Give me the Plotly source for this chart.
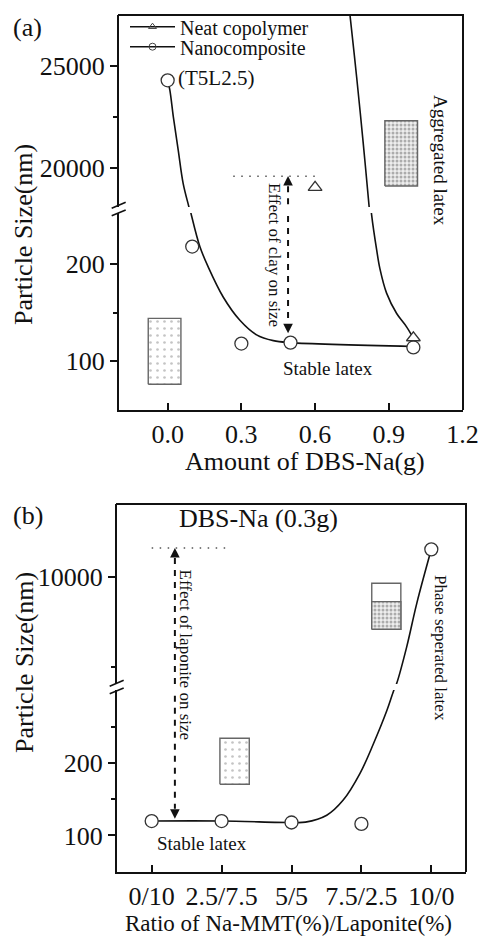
import plotly.graph_objects as go

# ---------------- data ----------------
# Panel (a): particle size vs amount of DBS-Na
dbs_nano = [0.0, 0.1, 0.3, 0.5, 1.0]
size_nano = [24300, 218, 118, 119, 114]
dbs_neat = [0.6, 1.0]
size_neat = [19050, 124]

# smooth guide curves as drawn in the figure (upper / lower part of broken axis)
nano_fit_up_x = [0.0, 0.009, 0.023, 0.043, 0.063, 0.088, 0.096]
nano_fit_up_y = [24300, 23820, 22520, 20880, 19250, 18020, 17600]
nano_fit_lo_x = [0.09, 0.098, 0.131, 0.165, 0.226, 0.294, 0.362, 0.43, 0.5, 1.0]
nano_fit_lo_y = [258, 249, 218, 197, 166, 142, 127, 121, 119, 115]
neat_fit_up_x = [0.735, 0.742, 0.769, 0.796, 0.82, 0.827]
neat_fit_up_y = [28300, 27500, 24475, 21210, 18100, 17200]
neat_fit_lo_x = [0.826, 0.83, 0.851, 0.864, 0.891, 0.932, 0.973, 1.0]
neat_fit_lo_y = [262, 251, 214, 195, 170, 149, 135, 123.5]

dbs_ticks = [0.0, 0.3, 0.6, 0.9, 1.2]
a_lo_ticks = [100, 200]
a_up_ticks = [20000, 25000]

# Panel (b): particle size vs Na-MMT / Laponite ratio (DBS-Na 0.3 g)
ratio_labels = ["0/10", "2.5/7.5", "5/5", "7.5/2.5", "10/0"]
mmt_pct = [0, 2.5, 5, 7.5, 10]
size_b = [120, 120, 118, 116, 10760]
b_fit_lo_x = [0, 2.5, 5.0, 5.5, 6.26, 6.85, 7.45, 7.93, 8.41, 8.64, 8.88]
b_fit_lo_y = [120, 120, 118, 118.5, 128, 149, 186, 227, 273, 299, 324]
b_fit_up_x = [8.64, 8.76, 9.12, 9.48, 10.0]
b_fit_up_y = [6800, 7030, 8050, 9260, 10760]
b_lo_ticks = [100, 200]
b_up_ticks = [10000]

BREAK = 1000  # values above go to the upper part of the broken axis

# ---------------- layout helpers (pixels -> paper) ----------------
W, H = 482, 939
def fx(p): return p / W
def fy(p): return 1 - p / H

FONT = "Liberation Serif"
INK = "#111111"
LINE = dict(color=INK, width=1.6)

fig = go.Figure()

def fit(x, y, xa, ya):
    fig.add_trace(go.Scatter(x=x, y=y, xaxis=xa, yaxis=ya, mode="lines",
                             line=dict(shape="spline", smoothing=1.0, **LINE),
                             showlegend=False, hoverinfo="skip"))

def box(x0, x1, y0, y1, xa, ya, pattern):
    fig.add_trace(go.Scatter(x=[x0, x1, x1, x0, x0], y=[y0, y0, y1, y1, y0],
                             xaxis=xa, yaxis=ya, mode="lines", fill="toself",
                             fillcolor="white", fillpattern=pattern,
                             line=dict(color="#666", width=1.4),
                             showlegend=False, hoverinfo="skip"))

SPARSE = dict(shape=".", size=7, solidity=0.12, fgcolor="#8a8a8a", bgcolor="white")
DENSE = dict(shape=".", size=4, solidity=0.45, fgcolor="#6a6a6a", bgcolor="#eeeeee")
NONE = dict(shape="")

# schematic latex boxes
box(-0.079, 0.054, 76, 144, "x", "y", SPARSE)
box(0.884, 1.017, 19118, 22319, "x", "y2", DENSE)
box(2.44, 3.49, 171, 234.6, "x2", "y3", SPARSE)
box(7.87, 8.91, 8539, 9817, "x2", "y4", NONE)
box(7.87, 8.91, 8539, 9306, "x2", "y4", DENSE)

# guide curves
fit(nano_fit_up_x, nano_fit_up_y, "x", "y2")
fit(nano_fit_lo_x, nano_fit_lo_y, "x", "y")
fit(neat_fit_up_x, neat_fit_up_y, "x", "y2")
fit(neat_fit_lo_x, neat_fit_lo_y, "x", "y")
fit(b_fit_lo_x, b_fit_lo_y, "x2", "y3")
fit(b_fit_up_x, b_fit_up_y, "x2", "y4")

def markers(x, y, xa, ya_lo, ya_up, symbol, size):
    for ya, keep in ((ya_lo, lambda v: v <= BREAK), (ya_up, lambda v: v > BREAK)):
        xs = [a for a, b in zip(x, y) if keep(b)]
        ys = [b for b in y if keep(b)]
        if xs:
            fig.add_trace(go.Scatter(x=xs, y=ys, xaxis=xa, yaxis=ya, mode="markers",
                                     marker=dict(symbol=symbol, size=size, color="white",
                                                 line=dict(color="#333", width=1.3)),
                                     showlegend=False, cliponaxis=False))

markers(dbs_nano, size_nano, "x", "y", "y2", "circle", 13)
markers(dbs_neat, size_neat, "x", "y", "y2", "triangle-up", 12)
markers(mmt_pct, size_b, "x2", "y3", "y4", "circle", 13)

# legend entries
fig.add_trace(go.Scatter(x=[None], y=[None], xaxis="x", yaxis="y", mode="lines+markers",
                         name="Neat copolymer", legend="legend",
                         line=dict(color=INK, width=1.6),
                         marker=dict(symbol="triangle-up-open", size=7, color="#444")))
fig.add_trace(go.Scatter(x=[None], y=[None], xaxis="x", yaxis="y", mode="lines+markers",
                         name="Nanocomposite", legend="legend2",
                         line=dict(color=INK, width=1.6),
                         marker=dict(symbol="circle-open", size=7, color="#444")))

# ---------------- axes ----------------
A_X, A_LO, A_UP = (119, 463), (410, 213), (207, 15)
B_X, B_LO, B_UP = (117, 466), (872, 690), (684, 504)

common = dict(showgrid=False, zeroline=False, showline=True, linewidth=2, linecolor=INK,
              tickcolor=INK, tickwidth=1.5, ticklen=7, automargin=False,
              tickfont=dict(family=FONT, size=26, color=INK), tickmode="array")

def yax(dom, rng, ticks, minor, anchor):
    return dict(common, domain=[fy(dom[0]), fy(dom[1])], range=rng, anchor=anchor,
                tickvals=ticks, ticktext=[str(t) for t in ticks], ticks="outside",
                minor=dict(tickmode="array", tickvals=minor, ticks="outside", ticklen=4,
                           tickwidth=1.5, tickcolor=INK))

fig.update_layout(
    width=W, height=H, margin=dict(l=0, r=0, t=0, b=0),
    paper_bgcolor="white", plot_bgcolor="white",
    font=dict(family=FONT, color=INK),
    xaxis=dict(common, domain=[fx(A_X[0]), fx(A_X[1])], range=[-0.198, 1.202], anchor="y",
               tickvals=dbs_ticks, ticktext=[f"{t:.1f}" for t in dbs_ticks], ticks="inside"),
    yaxis=yax(A_LO, [49.5, 252.6], a_lo_ticks, [150], "x"),
    yaxis2=yax(A_UP, [18088, 27500], a_up_ticks, [22500], "x"),
    xaxis2=dict(common, domain=[fx(B_X[0]), fx(B_X[1])], range=[-1.24, 11.24], anchor="y3",
                tickvals=mmt_pct, ticktext=ratio_labels, ticks="inside"),
    yaxis3=yax(B_LO, [49.4, 301.5], b_lo_ticks, [150, 250], "x2"),
    yaxis4=yax(B_UP, [7019, 12019], b_up_ticks, [7500], "x2"),
    legend=dict(x=fx(125), xanchor="left", y=fy(26.7), yanchor="middle",
                bgcolor="rgba(0,0,0,0)", itemwidth=45,
                font=dict(family=FONT, size=20, color=INK)),
    legend2=dict(x=fx(125), xanchor="left", y=fy(46.7), yanchor="middle",
                 bgcolor="rgba(0,0,0,0)", itemwidth=45,
                 font=dict(family=FONT, size=20, color=INK)),
)

# ---------------- frame, break marks, guide lines ----------------
shapes = []
def pline(x0, y0, x1, y1, w=2, color=INK, dash=None):
    shapes.append(dict(type="line", xref="paper", yref="paper",
                       x0=fx(x0), y0=fy(y0), x1=fx(x1), y1=fy(y1),
                       line=dict(color=color, width=w, dash=dash)))

for X, TOP, BOT in ((A_X, A_UP[1], A_LO[0]), (B_X, B_UP[1], B_LO[0])):
    pline(X[0] - 1, TOP, X[1] + 1, TOP)
    pline(X[1], TOP, X[1], BOT)

# axis break marks
for dx, dy in ((0, 0), (-2, 478)):
    pline(111.7 + dx, 208.3 + dy, 125.7 + dx, 202.3 + dy, w=1.6)
    pline(111.7 + dx, 215.7 + dy, 125.7 + dx, 210.0 + dy, w=1.6)

def dline(x0, y0, x1, y1, xa, ya, dash, color=INK, w=2):
    shapes.append(dict(type="line", xref=xa, yref=ya, x0=x0, y0=y0, x1=x1, y1=y1,
                       line=dict(color=color, width=w, dash=dash)))

# dotted reference levels
dline(0.267, 19600, 0.613, 19600, "x", "y2", "1.5px,6.5px", color="#555", w=1.5)
dline(0.0, 10800, 2.7, 10800, "x2", "y4", "1.5px,6.5px", color="#555", w=1.5)
# dashed arrow shafts
dline(0.49, 19110, 0.49, 17800, "x", "y2", "6px,6px")
dline(0.49, 262, 0.49, 139, "x", "y", "6px,6px")
dline(0.83, 10520, 0.83, 6800, "x2", "y4", "6px,6px")
dline(0.83, 310, 0.83, 137, "x2", "y3", "6px,6px")
fig.update_layout(shapes=shapes)

# ---------------- texts ----------------
ann = []
def ptext(text, x, y, size, angle=0, xanchor="center"):
    ann.append(dict(text=text, x=fx(x), y=fy(y), xref="paper", yref="paper",
                    xanchor=xanchor, yanchor="middle", textangle=angle, showarrow=False,
                    font=dict(family=FONT, size=size, color=INK)))

ptext("(a)", 27.5, 28, 26)
ptext("(b)", 27.5, 515, 26)
ptext("Particle Size(nm)", 24, 235, 26, -90)
ptext("Particle Size(nm)", 24, 663, 26, -90)
ptext("Amount of DBS-Na(g)", 305, 461, 26)
ptext("Ratio of Na-MMT(%)/Laponite(%)", 288, 923.5, 23)
ptext("Effect of clay on size", 274, 255, 17, 90)
ptext("Aggregated latex", 441, 160, 19, 90)
ptext("Stable latex", 327.5, 368, 19)
ptext("DBS-Na (0.3g)", 258, 518, 26)
ptext("Effect of laponite on size", 185.5, 655, 17, 90)
ptext("Phase seperated latex", 441, 648, 17, 90)
ptext("Stable latex", 201.7, 843, 19)

ann.append(dict(text="(T5L2.5)", x=dbs_nano[0], y=size_nano[0], xref="x", yref="y2",
                xanchor="left", yanchor="middle", xshift=8, yshift=2, showarrow=False,
                font=dict(family=FONT, size=21, color=INK)))

def arrowhead(x, y, xa, ya, up):
    ann.append(dict(text="", x=x, y=y, xref=xa, yref=ya, showarrow=True, ax=0,
                    ay=10 if up else -10, arrowhead=2, arrowsize=1.2, arrowwidth=1.6,
                    arrowcolor=INK, standoff=0))

arrowhead(0.49, 19608, "x", "y2", True)
arrowhead(0.49, 128.6, "x", "y", False)
arrowhead(0.83, 10800, "x2", "y4", True)
arrowhead(0.83, 123, "x2", "y3", False)

fig.update_layout(annotations=ann)

fig.write_html("out.html")
